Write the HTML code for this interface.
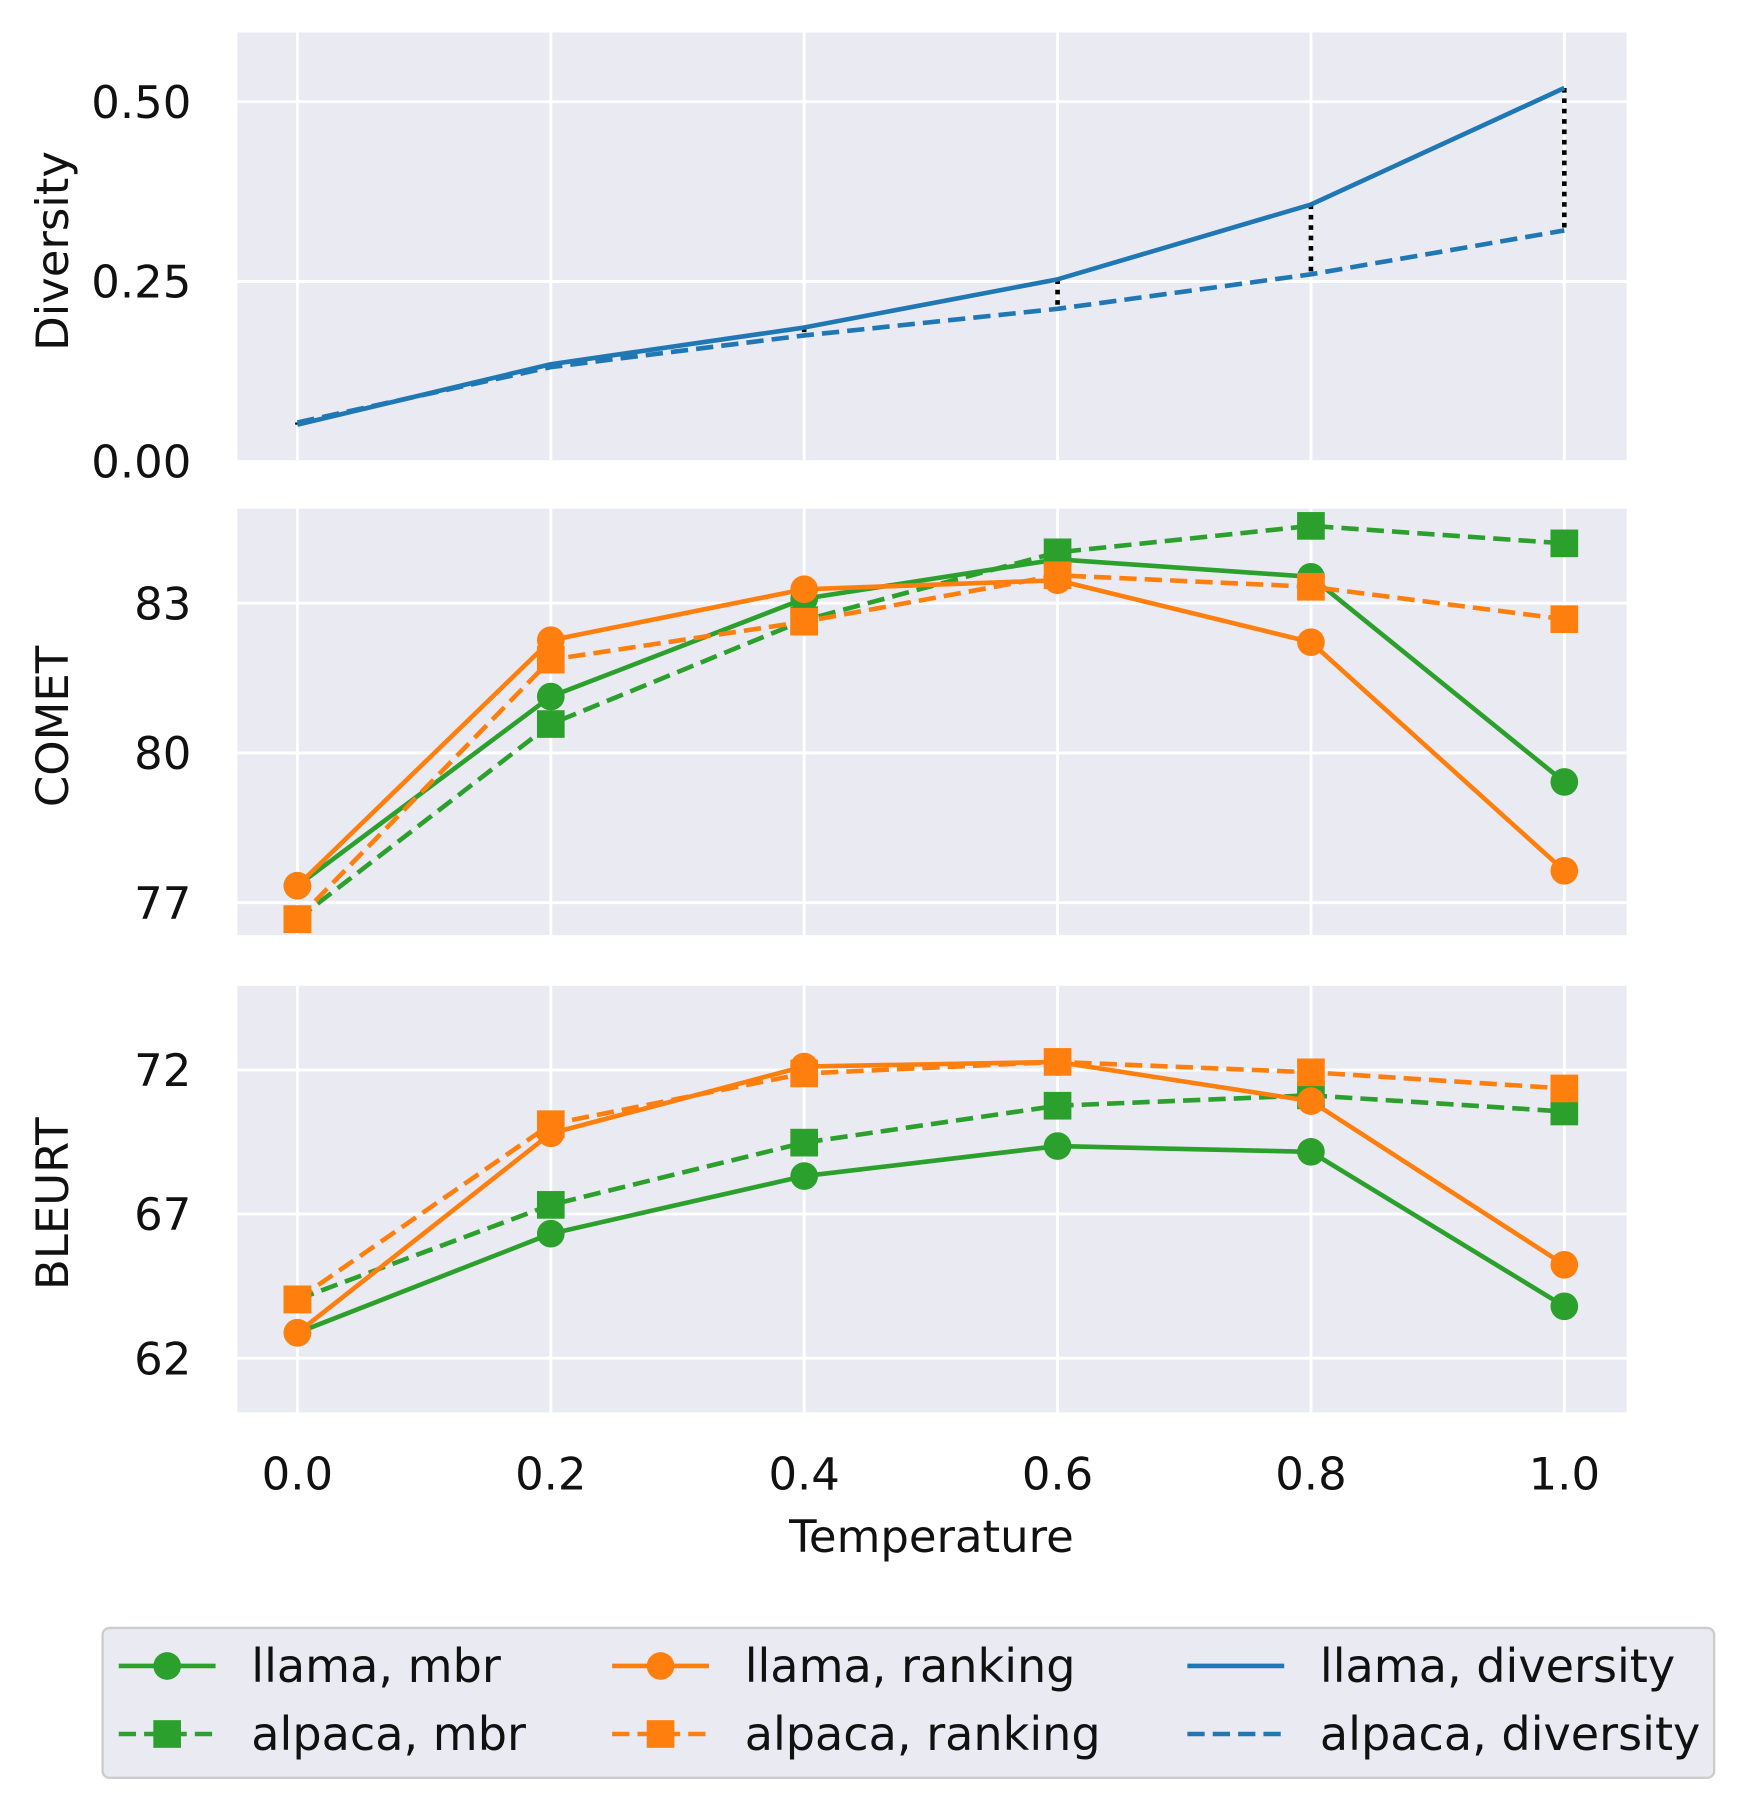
<!DOCTYPE html>
<html><head><meta charset="utf-8"><style>
html,body{margin:0;padding:0;background:#fff;}
svg{display:block;font-family:"DejaVu Sans","Liberation Sans",sans-serif;}
</style></head><body>
<svg id="chart" width="1743" height="1808" viewBox="0 0 1512 1568" xmlns="http://www.w3.org/2000/svg"></svg>
<script>
const temps = [0.0, 0.2, 0.4, 0.6, 0.8, 1.0];
const xTickLabels = ["0.0", "0.2", "0.4", "0.6", "0.8", "1.0"];
const divLlama = [0.051, 0.135, 0.186, 0.253, 0.357, 0.519];
const divAlpaca = [0.054, 0.131, 0.175, 0.212, 0.260, 0.321];
const cometLlamaMbr = [77.34, 81.13, 83.09, 83.88, 83.53, 79.42];
const cometAlpacaMbr = [76.67, 80.58, 82.66, 84.02, 84.55, 84.20];
const cometLlamaRank = [77.34, 82.26, 83.28, 83.46, 82.22, 77.64];
const cometAlpacaRank = [76.67, 81.87, 82.63, 83.56, 83.33, 82.68];
const bleurtLlamaMbr = [62.88, 66.32, 68.32, 69.36, 69.16, 63.80];
const bleurtAlpacaMbr = [64.04, 67.32, 69.48, 70.76, 71.12, 70.56];
const bleurtLlamaRank = [62.88, 69.80, 72.12, 72.28, 70.92, 65.24];
const bleurtAlpacaRank = [64.04, 70.12, 71.88, 72.28, 71.92, 71.36];
const divTicks = [0.0, 0.25, 0.5];
const divTickLabels = ["0.00", "0.25", "0.50"];
const cometTicks = [77, 80, 83];
const bleurtTicks = [62, 67, 72];

const NS = "http://www.w3.org/2000/svg";
const svg = document.getElementById("chart");
function mk(tag, attrs, parent) {
  const e = document.createElementNS(NS, tag);
  for (const k in attrs) e.setAttribute(k, attrs[k]);
  (parent || svg).appendChild(e);
  return e;
}
const GREEN = "#2ca02c", ORANGE = "#ff7f0e", BLUE = "#1f77b4";
const LW = 4, DASH = "15,7";
const PL = 206, PR = 1411;
function xs(t) { return 258 + (t - 0) / 1.0 * (1357 - 258); }

const panels = [
  { name: "diversity", top: 28, bot: 399, y: v => 400 - v * 624, ticks: divTicks, labels: divTickLabels, title: "Diversity" },
  { name: "comet", top: 441, bot: 811, y: v => 653 - (v - 80) * 43.3, ticks: cometTicks, labels: cometTicks.map(String), title: "COMET" },
  { name: "bleurt", top: 855, bot: 1225, y: v => 1053 - (v - 67) * 25, ticks: bleurtTicks, labels: bleurtTicks.map(String), title: "BLEURT" }
];

panels.forEach(p => {
  const g = mk("g", {});
  
  
  const bg = mk("rect", { x: PL, y: p.top, width: PR - PL, height: p.bot - p.top, fill: "#eaeaf2" }, g);
  
  
  temps.forEach(t => {
    const l = mk("line", { x1: xs(t), x2: xs(t), y1: p.top, y2: p.bot, stroke: "#fff", "stroke-width": 2.5 }, g);
    
    
  });
  p.ticks.forEach((v, i) => {
    const yy = p.y(v);
    if (yy >= p.top && yy <= p.bot) {
      const l = mk("line", { x1: PL, x2: PR, y1: yy, y2: yy, stroke: "#fff", "stroke-width": 2.5 }, g);
      
      
    }
    const tx = mk("text", { x: 166, y: yy + 14, "text-anchor": "end", "font-size": 39, fill: "#111" }, g);
    tx.textContent = p.labels[i];
    
    
  });
  const cy = (p.top + p.bot) / 2 + 4;
  const yt = mk("text", { x: 0, y: 0, transform: `translate(59,${cy}) rotate(-90)`, "text-anchor": "middle", "font-size": 39, fill: "#111" }, g);
  yt.textContent = p.title;
  
  
});

function series(panel, vals, color, dashed, marker, name) {
  const g = mk("g", {});
  
  
  const pts = vals.map((v, i) => xs(temps[i]) + "," + panel.y(v)).join(" ");
  const pl = mk("polyline", { points: pts, fill: "none", stroke: color, "stroke-width": LW, "stroke-linejoin": "round" }, g);
  if (dashed) pl.setAttribute("stroke-dasharray", DASH);
  
  
  if (marker) vals.forEach((v, i) => {
    const cx = xs(temps[i]), cy = panel.y(v);
    let m;
    if (marker === "o") m = mk("circle", { cx: cx, cy: cy, r: 12, fill: color }, g);
    else m = mk("rect", { x: cx - 12, y: cy - 12, width: 24, height: 24, fill: color }, g);
    
    
  });
}

const P0 = panels[0];
temps.forEach((t, i) => {
  const d = mk("line", { x1: xs(t), x2: xs(t), y1: P0.y(divLlama[i]), y2: P0.y(divAlpaca[i]), stroke: "#000", "stroke-width": 4, "stroke-dasharray": "4,5" });
  
  
});
series(P0, divAlpaca, BLUE, true, null, "alpaca-diversity");
series(P0, divLlama, BLUE, false, null, "llama-diversity");

const P1 = panels[1];
series(P1, cometAlpacaMbr, GREEN, true, "s", "comet-alpaca-mbr");
series(P1, cometLlamaMbr, GREEN, false, "o", "comet-llama-mbr");
series(P1, cometLlamaRank, ORANGE, false, "o", "comet-llama-ranking");
series(P1, cometAlpacaRank, ORANGE, true, "s", "comet-alpaca-ranking");

const P2 = panels[2];
series(P2, bleurtLlamaMbr, GREEN, false, "o", "bleurt-llama-mbr");
series(P2, bleurtAlpacaMbr, GREEN, true, "s", "bleurt-alpaca-mbr");
series(P2, bleurtLlamaRank, ORANGE, false, "o", "bleurt-llama-ranking");
series(P2, bleurtAlpacaRank, ORANGE, true, "s", "bleurt-alpaca-ranking");

temps.forEach((t, i) => {
  const tx = mk("text", { x: xs(t), y: 1292, "text-anchor": "middle", "font-size": 39, fill: "#111" });
  tx.textContent = xTickLabels[i];
  
  
});
const xt = mk("text", { x: 808, y: 1346, "text-anchor": "middle", "font-size": 39, fill: "#111" });
xt.textContent = "Temperature";



const lg = mk("g", {});


const lb = mk("rect", { x: 89, y: 1412, width: 1398, height: 130, rx: 6, fill: "#eaeaf2", stroke: "#cccccc", "stroke-width": 2 }, lg);


const entries = [
  { c: GREEN, d: false, m: "o", t: "llama, mbr", x: 103, y: 1445 },
  { c: GREEN, d: true, m: "s", t: "alpaca, mbr", x: 103, y: 1504 },
  { c: ORANGE, d: false, m: "o", t: "llama, ranking", x: 531, y: 1445 },
  { c: ORANGE, d: true, m: "s", t: "alpaca, ranking", x: 531, y: 1504 },
  { c: BLUE, d: false, m: null, t: "llama, diversity", x: 1030, y: 1445 },
  { c: BLUE, d: true, m: null, t: "alpaca, diversity", x: 1030, y: 1504 }
];
entries.forEach(e => {
  const g = mk("g", {}, lg);
  
  
  const l = mk("line", { x1: e.x, x2: e.x + 84, y1: e.y, y2: e.y, stroke: e.c, "stroke-width": LW }, g);
  if (e.d) l.setAttribute("stroke-dasharray", DASH);
  if (e.m === "o") mk("circle", { cx: e.x + 42, cy: e.y, r: 12, fill: e.c }, g);
  if (e.m === "s") mk("rect", { x: e.x + 30, y: e.y - 12, width: 24, height: 24, fill: e.c }, g);
  const tx = mk("text", { x: e.x + 115, y: e.y + 14, "font-size": 40, fill: "#111" }, g);
  tx.textContent = e.t;
});
</script>
</body></html>
